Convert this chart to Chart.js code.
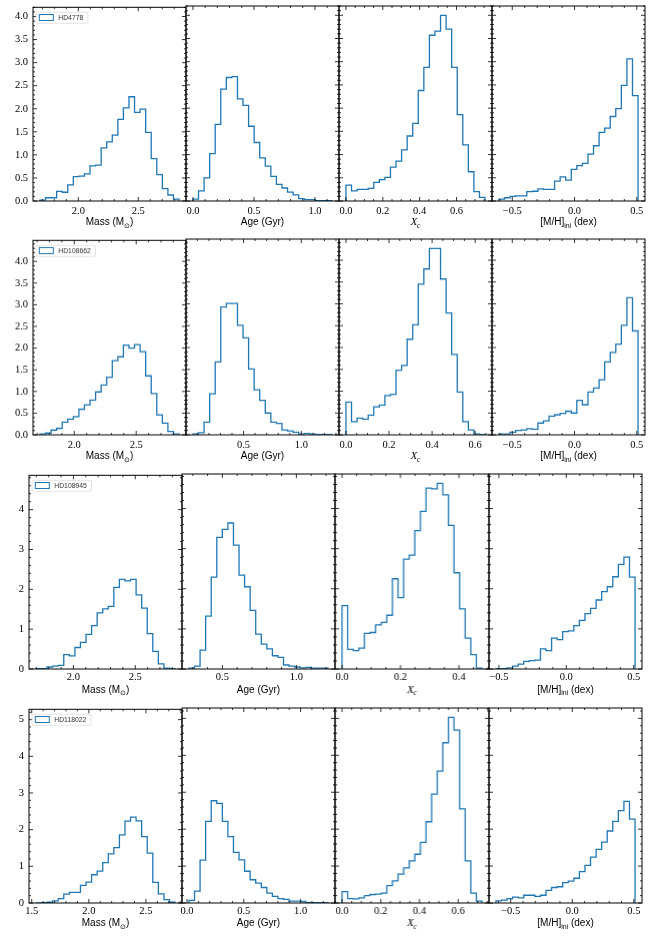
<!DOCTYPE html>
<html>
<head>
<meta charset="utf-8">
<script src="https://cdn.jsdelivr.net/npm/chart.js@4.4.1/dist/chart.umd.min.js"></script>
<style>
    html, body { margin: 0; padding: 0; background: #fff; }
    #fig { position: relative; width: 662px; height: 936px; overflow: hidden; }
    #fig canvas { position: absolute; }
</style>
</head>
<body>
<div id="fig"></div>
<script>
// star names (one row each)
const stars = ['HD4778', 'HD108662', 'HD108945', 'HD118022'];

// histogram heights, 25 bins per panel: mass, age, Xc, [M/H]ini
const massHD4778 = [0.02, 0.07, 0.07, 0.21, 0.19, 0.35, 0.53, 0.54, 0.59, 0.76, 0.78, 1.15, 1.28, 1.43, 1.77, 2.02, 2.26, 1.92, 1.99, 1.49, 0.92, 0.57, 0.27, 0.13, 0.04];
const ageHD4778 = [0.04, 0.22, 0.50, 1.02, 1.65, 2.41, 2.66, 2.68, 2.20, 2.06, 1.61, 1.26, 0.93, 0.75, 0.53, 0.36, 0.28, 0.19, 0.13, 0.05, 0.03, 0.03, 0.01, 0.01, 0.01];
const xcHD4778 = [0.34, 0.22, 0.25, 0.25, 0.27, 0.40, 0.46, 0.51, 0.73, 0.86, 1.10, 1.40, 1.67, 2.38, 2.88, 3.57, 3.66, 4.00, 3.70, 2.88, 1.86, 1.21, 0.63, 0.20, 0.08];
const mhHD4778 = [0.04, 0.07, 0.10, 0.11, 0.11, 0.20, 0.21, 0.26, 0.25, 0.25, 0.43, 0.52, 0.45, 0.68, 0.76, 0.81, 1.01, 1.19, 1.48, 1.57, 1.82, 1.99, 2.49, 3.06, 2.27];

const massHD108662 = [0.02, 0.04, 0.11, 0.15, 0.29, 0.36, 0.42, 0.59, 0.69, 0.80, 0.99, 1.15, 1.33, 1.71, 1.80, 2.07, 2.00, 2.08, 1.92, 1.36, 0.95, 0.46, 0.27, 0.08, 0.02];
const ageHD108662 = [0.02, 0.05, 0.29, 0.94, 1.67, 2.93, 3.01, 3.01, 2.51, 2.22, 1.51, 1.03, 0.79, 0.50, 0.29, 0.26, 0.11, 0.09, 0.06, 0.02, 0.03, 0.02, 0.01, 0.01, 0.01];
const xcHD108662 = [0.75, 0.30, 0.38, 0.36, 0.45, 0.64, 0.68, 0.90, 0.93, 1.48, 1.59, 2.19, 2.52, 3.45, 3.80, 4.27, 4.27, 3.57, 2.79, 1.84, 0.98, 0.30, 0.11, 0.02, 0.01];
const mhHD108662 = [0.02, 0.02, 0.06, 0.10, 0.11, 0.14, 0.13, 0.27, 0.32, 0.43, 0.46, 0.49, 0.54, 0.50, 0.79, 0.69, 0.98, 1.07, 1.26, 1.67, 1.89, 2.08, 2.51, 3.14, 2.38];

const massHD108945 = [0.01, 0.01, 0.05, 0.07, 0.09, 0.36, 0.33, 0.54, 0.67, 0.87, 1.09, 1.41, 1.51, 1.57, 2.05, 2.25, 2.21, 2.25, 1.86, 1.53, 0.89, 0.44, 0.13, 0.02, 0.01];
const ageHD108945 = [0.02, 0.07, 0.47, 1.32, 2.29, 3.28, 3.48, 3.64, 3.09, 2.34, 2.05, 1.46, 0.87, 0.62, 0.50, 0.33, 0.29, 0.10, 0.07, 0.05, 0.03, 0.04, 0.02, 0.02, 0.02];
const xcHD108945 = [1.58, 0.49, 0.46, 0.52, 0.89, 0.91, 1.10, 1.16, 1.34, 2.25, 1.78, 2.74, 2.84, 3.45, 3.93, 4.51, 4.49, 4.63, 4.34, 3.58, 2.40, 1.50, 0.77, 0.36, 0.02];
const mhHD108945 = [0.01, 0.01, 0.03, 0.07, 0.12, 0.19, 0.21, 0.22, 0.50, 0.46, 0.77, 0.73, 0.93, 0.95, 1.08, 1.21, 1.38, 1.51, 1.72, 1.93, 2.05, 2.30, 2.61, 2.79, 2.29];

const massHD118022 = [0.00, 0.01, 0.02, 0.06, 0.12, 0.24, 0.29, 0.29, 0.48, 0.57, 0.77, 0.87, 1.10, 1.34, 1.51, 1.86, 2.23, 2.34, 2.24, 1.81, 1.36, 0.56, 0.25, 0.09, 0.02];
const ageHD118022 = [0.07, 0.32, 1.16, 2.21, 2.77, 2.70, 2.21, 1.80, 1.37, 1.17, 0.86, 0.63, 0.54, 0.42, 0.27, 0.18, 0.12, 0.10, 0.05, 0.05, 0.04, 0.01, 0.01, 0.01, 0.01];
const xcHD118022 = [0.31, 0.12, 0.11, 0.14, 0.20, 0.23, 0.24, 0.27, 0.47, 0.60, 0.78, 0.95, 1.14, 1.32, 1.64, 2.20, 2.95, 3.57, 4.34, 5.03, 4.68, 2.55, 1.14, 0.27, 0.05];
const mhHD118022 = [0.06, 0.08, 0.12, 0.16, 0.14, 0.21, 0.21, 0.18, 0.21, 0.34, 0.42, 0.44, 0.55, 0.59, 0.67, 0.85, 1.02, 1.24, 1.45, 1.65, 1.95, 2.21, 2.50, 2.75, 2.27];

// sample range (first and last bin edge) of each histogram
const rangeHD4778 = [[1.68, 2.84], [0.0, 1.14], [0.0, 0.755], [-0.607, 0.51]];
const rangeHD108662 = [[1.723, 2.846], [0.062, 1.266], [0.0, 0.646], [-0.607, 0.51]];
const rangeHD108945 = [[1.697, 2.822], [0.274, 1.214], [0.0, 0.479], [-0.522, 0.51]];
const rangeHD118022 = [[1.537, 2.755], [0.017, 1.242], [0.0, 0.723], [-0.62, 0.51]];

// major tick values
const massTicks = [1.0, 1.5, 2.0, 2.5, 3.0];
const ageTicks = [-0.5, 0.0, 0.5, 1.0, 1.5];
const xcTicks = [-0.2, 0.0, 0.2, 0.4, 0.6, 0.8];
const mhTicks = [-1.0, -0.5, 0.0, 0.5, 1.0];
const yTicksHalf = [0, 0.5, 1.0, 1.5, 2.0, 2.5, 3.0, 3.5, 4.0, 4.5, 5.0];
const yTicksOne = [0, 1, 2, 3, 4, 5, 6];

// axis titles, split into pieces for subscripts
const xTitles = [
    [{t: 'Mass (M'}, {t: '\u2299', sub: true}, {t: ')'}],
    [{t: 'Age (Gyr)'}],
    [{t: 'X', it: true}, {t: 'c', it: true, sub: true}],
    [{t: '[M/H]'}, {t: 'ini', sub: true}, {t: ' (dex)'}]
];

const rows = [
    {name: stars[0], hist: [massHD4778, ageHD4778, xcHD4778, mhHD4778], range: rangeHD4778, yTicks: yTicksHalf, yDec: 1},
    {name: stars[1], hist: [massHD108662, ageHD108662, xcHD108662, mhHD108662], range: rangeHD108662, yTicks: yTicksHalf, yDec: 1},
    {name: stars[2], hist: [massHD108945, ageHD108945, xcHD108945, mhHD108945], range: rangeHD108945, yTicks: yTicksOne, yDec: 0},
    {name: stars[3], hist: [massHD118022, ageHD118022, xcHD118022, mhHD118022], range: rangeHD118022, yTicks: yTicksOne, yDec: 0}
];
const xTicks = [massTicks, ageTicks, xcTicks, mhTicks];

// layout of each row (pixels)
const layout = [
    {top: 5.7, h: 195.3, left: 33, right: 645, tickPad: 4, titleOff: 20.5},
    {top: 239.3, h: 195.7, left: 33, right: 645, tickPad: 4, titleOff: 20.5},
    {top: 474.3, h: 195, left: 29, right: 641.7, tickPad: 2, titleOff: 20},
    {top: 708.3, h: 195, left: 29, right: 641.7, tickPad: 2, titleOff: 19.5}
];

const C0 = '#1f77b4';
const PAD = 10;
const BOTTOM = 36;
const TICK_FONT = {family: 'Liberation Serif', size: 10.5};

function fmt(v, dec) {
    return v.toFixed(dec).replace('-', '\u2212');
}

// matplotlib-like step outline from bin heights
function stepPoints(range, heights) {
    const w = (range[1] - range[0]) / heights.length;
    const pts = [{x: range[0], y: 0}];
    heights.forEach((h, i) => pts.push({x: range[0] + i * w, y: h}));
    pts.push({x: range[1], y: 0});
    return pts;
}

function minorOf(majors) {
    const out = [];
    for (let i = 0; i < majors.length - 1; i++) {
        const a = majors[i], b = majors[i + 1];
        const n = Math.abs((b - a) - 0.2) < 1e-9 ? 4 : 5;
        for (let k = 1; k < n; k++) out.push(a + k * (b - a) / n);
    }
    return out;
}

const inRange = (v, lo, hi) => v >= lo - 1e-9 && v <= hi + 1e-9;

const framePlugin = {
    id: 'frame',
    afterDraw(chart, args, o) {
        const {ctx, chartArea: a, scales} = chart;
        const x = scales.x, y = scales.y;
        ctx.save();
        ctx.strokeStyle = '#000';
        ctx.lineWidth = 0.8;
        ctx.beginPath();
        const xm = o.xMajor, ym = o.yMajor;
        const marks = (vals, len, isX) => {
            vals.forEach(v => {
                if (isX) {
                    if (!inRange(v, x.min, x.max)) return;
                    const px = x.getPixelForValue(v);
                    ctx.moveTo(px, a.bottom); ctx.lineTo(px, a.bottom - len);
                    ctx.moveTo(px, a.top); ctx.lineTo(px, a.top + len);
                } else {
                    if (!inRange(v, y.min, y.max)) return;
                    const py = y.getPixelForValue(v);
                    ctx.moveTo(a.left, py); ctx.lineTo(a.left + len, py);
                    ctx.moveTo(a.right, py); ctx.lineTo(a.right - len, py);
                }
            });
        };
        marks(xm, 4, true);
        marks(minorOf(xm), 2, true);
        marks(ym, 4, false);
        marks(minorOf(ym), 2, false);
        ctx.stroke();
        ctx.lineWidth = 1;
        ctx.strokeRect(a.left, a.top, a.right - a.left, a.bottom - a.top);

        // x axis title
        const base = 10, cy = a.bottom + o.titleOff + 3.6;
        const pieces = o.title.map(p => {
            const size = p.sub ? 7 : base;
            const font = p.it ? `italic ${size + 0.5}px "Liberation Serif"` : `${size}px "Liberation Sans", "DejaVu Sans"`;
            ctx.font = font;
            return {t: p.t, font, w: ctx.measureText(p.t).width, dy: p.sub ? 2.4 : 0};
        });
        let tx = (a.left + a.right) / 2 - pieces.reduce((s, p) => s + p.w, 0) / 2;
        ctx.fillStyle = '#000';
        ctx.textBaseline = 'alphabetic';
        pieces.forEach(p => {
            ctx.font = p.font;
            ctx.fillText(p.t, tx, cy + p.dy);
            tx += p.w;
        });

        // legend box in the first panel
        if (o.legend) {
            ctx.font = '6.8px "Liberation Sans"';
            const tw = ctx.measureText(o.legend).width;
            const bx = a.left + 3, by = a.top + 5, bw = tw + 27, bh = 11;
            ctx.globalAlpha = 0.8;
            ctx.fillStyle = '#fff';
            ctx.beginPath();
            ctx.roundRect(bx, by, bw, bh, 1.5);
            ctx.fill();
            ctx.globalAlpha = 1;
            ctx.strokeStyle = '#d0d0d0';
            ctx.lineWidth = 0.6;
            ctx.stroke();
            ctx.strokeStyle = C0;
            ctx.lineWidth = 1;
            ctx.strokeRect(bx + 3.3, by + 2.2, 14, 6);
            ctx.fillStyle = '#333';
            ctx.textBaseline = 'middle';
            ctx.fillText(o.legend, bx + 22.3, by + bh / 2 + 0.3);
        }
        ctx.restore();
    }
};

const fig = document.getElementById('fig');

rows.forEach((row, r) => {
    const L = layout[r];
    const pw = (L.right - L.left) / 4;
    const ymax = 1.05 * Math.max(...row.hist.map(h => Math.max(...h)));

    for (let j = 0; j < 4; j++) {
        const first = j === 0;
        const lo = row.range[j][0], hi = row.range[j][1];
        const m = 0.05 * (hi - lo);
        const xmin = lo - m, xmax = hi + m;
        const majors = xTicks[j];

        const cv = document.createElement('canvas');
        const left = first ? 0 : L.left + j * pw - PAD;
        const w = first ? L.left + pw + PAD : pw + 2 * PAD;
        const h = PAD + L.h + BOTTOM;
        cv.width = w; cv.height = h;
        cv.style.left = left + 'px';
        cv.style.top = (L.top - PAD) + 'px';
        cv.style.width = w + 'px';
        cv.style.height = h + 'px';
        fig.appendChild(cv);

        new Chart(cv, {
            type: 'line',
            data: {
                datasets: [{
                    data: stepPoints(row.range[j], row.hist[j]),
                    stepped: true,
                    borderColor: C0,
                    borderWidth: 1.3,
                    pointRadius: 0,
                    fill: false
                }]
            },
            options: {
                responsive: false,
                animation: false,
                events: [],
                layout: {padding: {left: first ? 0 : PAD, right: PAD, top: PAD, bottom: 0}},
                plugins: {
                    legend: {display: false},
                    tooltip: {enabled: false},
                    frame: {
                        xMajor: majors,
                        yMajor: row.yTicks,
                        title: xTitles[j],
                        titleOff: L.titleOff,
                        legend: first ? row.name : ''
                    }
                },
                scales: {
                    x: {
                        type: 'linear',
                        min: xmin,
                        max: xmax,
                        grid: {display: false, drawTicks: false},
                        border: {display: false},
                        ticks: {
                            font: TICK_FONT, color: '#000', padding: L.tickPad,
                            maxRotation: 0, autoSkip: false,
                            callback: v => fmt(v, 1)
                        },
                        afterBuildTicks: s => {
                            s.ticks = majors.filter(v => inRange(v, xmin, xmax)).map(v => ({value: v}));
                        },
                        afterFit: s => { s.height = BOTTOM; }
                    },
                    y: {
                        type: 'linear',
                        display: first,
                        min: 0,
                        max: ymax,
                        grid: {display: false, drawTicks: false},
                        border: {display: false},
                        ticks: {
                            font: TICK_FONT, color: '#000', padding: 5,
                            autoSkip: false,
                            callback: v => fmt(v, row.yDec)
                        },
                        afterBuildTicks: s => {
                            s.ticks = row.yTicks.filter(v => inRange(v, 0, ymax)).map(v => ({value: v}));
                        },
                        afterFit: s => { if (first) s.width = L.left; }
                    }
                }
            },
            plugins: [framePlugin]
        });
    }
});
</script>
</body>
</html>
